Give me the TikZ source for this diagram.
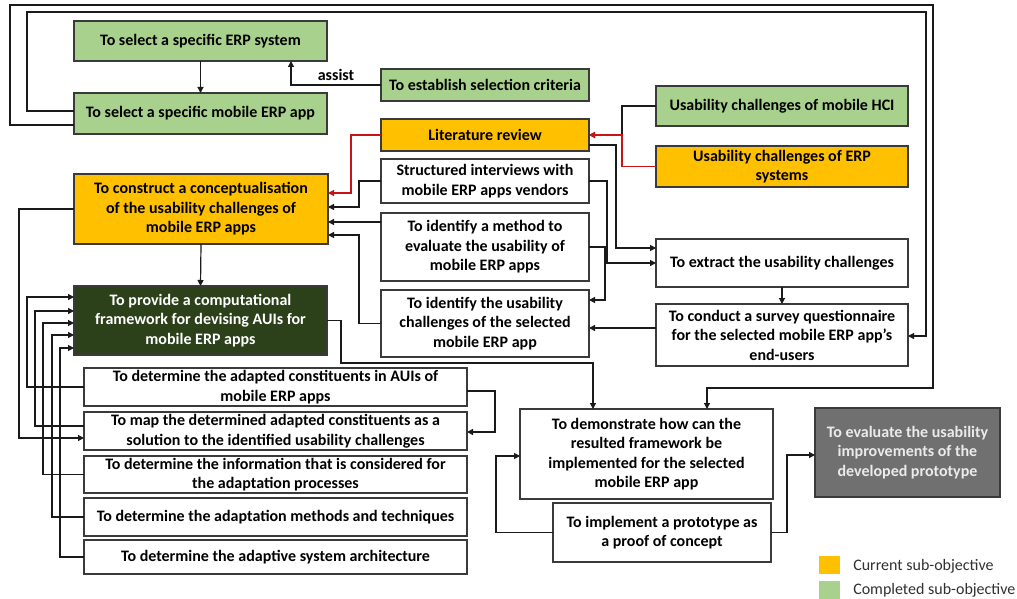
\documentclass[tikz,border=0pt]{standalone}
\usepackage{fontspec}
\setmainfont{Carlito}
\usetikzlibrary{arrows.meta}
\definecolor{lgreen}{RGB}{169,209,142}
\definecolor{amber}{RGB}{255,192,0}
\definecolor{dgreen}{RGB}{44,64,26}
\definecolor{dgray}{RGB}{112,112,112}
\definecolor{boxline}{RGB}{58,58,58}
\definecolor{wire}{RGB}{26,26,26}
\definecolor{redwire}{RGB}{200,20,20}
\definecolor{legtext}{RGB}{48,48,48}
% a box given by its corners (in pixel units, y downward)
\newcommand\bx[7]{\node[#6, minimum width={(#4-#2)*0.75pt}, minimum height={(#5-#3)*0.75pt}] (#1) at ({(#2+#4)/2},{(#3+#5)/2}) {#7};}
\tikzset{
  box/.style={draw=boxline, line width=0.9pt, inner sep=0pt, outer sep=0pt, align=center,
    font=\bfseries\fontsize{12}{14.6}\selectfont, text=black},
  done/.style={box, fill=lgreen},
  current/.style={box, fill=amber},
  plain/.style={box, fill=white},
  main/.style={box, fill=dgreen, text=white},
  later/.style={box, fill=dgray, text=white!92!black},
  conn/.style={draw=wire, line width=0.9pt, -{Triangle[length=4.5pt,width=4.5pt]}},
  loop/.style={draw=wire, line width=0.9pt},
  redconn/.style={draw=redwire, line width=0.9pt, -{Triangle[length=4.5pt,width=4.5pt]}},
  legend/.style={font=\fontsize{12}{14.6}\selectfont, text=legtext, anchor=west, inner sep=0pt},
}
\begin{document}
\begin{tikzpicture}[x=0.75pt, y=-0.75pt]
\useasboundingbox (0,0) rectangle (1017,599);

% selection stage
\bx{erp}{74}{21}{327}{61}{done}{To select a specific ERP system}
\bx{mob}{74}{93}{327}{134}{done}{To select a specific mobile ERP app}
\bx{crit}{381}{69}{589}{101}{done}{To establish selection criteria}

% sources of usability challenges
\bx{lit}{381}{119}{589}{151}{current}{Literature review}
\bx{int}{381}{159}{589}{203}{plain}{Structured interviews with\\mobile ERP apps vendors}
\bx{meth}{381}{213}{589}{281}{plain}{To identify a method to\\evaluate the usability of\\mobile ERP apps}
\bx{chal}{381}{290}{589}{357}{plain}{To identify the usability\\challenges of the selected\\mobile ERP app}
\bx{hci}{656}{86}{908}{126}{done}{Usability challenges of mobile HCI}
\bx{erps}{656}{146}{908}{187}{current}{Usability challenges of ERP\\systems}
\bx{ext}{656}{239}{908}{287}{plain}{To extract the usability challenges}
\bx{sur}{656}{304}{908}{366}{plain}{To conduct a survey questionnaire\\for the selected mobile ERP app’s\\end-users}

% conceptualisation and framework
\bx{cons}{74}{174}{328}{244}{current}{To construct a conceptualisation\\of the usability challenges of\\mobile ERP apps}
\bx{fw}{74}{286}{327}{355}{main}{To provide a computational\\framework for devising AUIs for\\mobile ERP apps}

% framework components
\bx{adc}{84}{368}{467}{406}{plain}{To determine the adapted constituents in AUIs of\\mobile ERP apps}
\bx{map}{84}{412}{467}{450}{plain}{To map the determined adapted constituents as a\\solution to the identified usability challenges}
\bx{inf}{84}{456}{467}{493}{plain}{To determine the information that is considered for\\the adaptation processes}
\bx{mth}{84}{498}{467}{536}{plain}{To determine the adaptation methods and techniques}
\bx{arc}{84}{540}{467}{574}{plain}{To determine the adaptive system architecture}

% demonstration and evaluation
\bx{demo}{520}{409}{773}{499}{plain}{To demonstrate how can the\\resulted framework be\\implemented for the selected\\mobile ERP app}
\bx{imp}{553}{503}{771}{562}{plain}{To implement a prototype as\\a proof of concept}
\bx{eval}{815}{408}{1000}{497}{later}{To evaluate the usability\\improvements of the\\developed prototype}

% legend
\fill[amber] (819,556) rectangle (840,574);
\fill[lgreen] (819,581) rectangle (840,599);
\node[legend] (lcur) at (853,566) {Current sub-objective};
\node[legend] (lcom) at (853,590) {Completed sub-objective};

% selection links
\draw[conn] (erp.south) -- (mob.north);
\draw[conn] (crit.west) -| (291,0 |- erp.south);
\node[font=\bfseries\fontsize{12}{14.6}\selectfont, inner sep=0pt] (assist) at (336,75) {assist};
\draw[conn] (mob.west |- 0,125) -| (10,5) -| (933,388) -| (707,0 |- demo.north);
\draw[conn] (mob.west |- 0,111) -| (27,12) -| (926,336) -- (sur.east |- 0,336);

% literature inputs
\draw[conn] (hci.west) -| (622,135) -- (lit.east);
\draw[redconn] (erps.west) -| (622,135) -- (lit.east);
\draw[redconn] (lit.west) -| (351,193) -- (cons.east |- 0,193);

% inputs to the conceptualisation
\draw[conn] (int.west) -| (359,207) -- (cons.east |- 0,207);
\draw[conn] (meth.west |- 0,222) -- (cons.east |- 0,222);
\draw[conn] (chal.west) -| (359,235) -- (cons.east |- 0,235);

% extraction and survey
\draw[conn] (lit.east |- 0,145) -| (616,248) -- (ext.west |- 0,248);
\draw[conn] (int.east) -| (607,263) -- (ext.west |- 0,263);
\draw[conn] (meth.east) -| (605,300) -- (chal.east |- 0,300);
\draw[conn] (sur.west |- 0,328) -- (chal.east |- 0,328);
\draw[conn] (ext.south) -- (sur.north);

% conceptualisation to framework
\draw[conn] (cons.south) -- (fw.north);
\draw[conn] (cons.west) -| (19,438) -- (map.west |- 0,438);

% components feeding the framework
\draw[conn] (adc.west) -| (27,297) -- (fw.west |- 0,297);
\draw[conn] (map.west |- 0,426) -| (35,311) -- (fw.west |- 0,311);
\draw[conn] (inf.west) -| (43,323) -- (fw.west |- 0,323);
\draw[conn] (mth.west) -| (52,335) -- (fw.west |- 0,335);
\draw[conn] (arc.west) -| (60,348) -- (fw.west |- 0,348);
\draw[conn] (adc.east |- 0,391) -| (495,432) -- (map.east |- 0,432);

% framework to demonstration and evaluation
\draw[conn] (fw.east) -| (341,363) -| (593,0 |- demo.north);
\draw[conn] (imp.west) -| (496,456) -- (demo.west |- 0,456);
\draw[conn] (imp.east) -| (787,455) -- (eval.west |- 0,455);
\end{tikzpicture}
\end{document}
